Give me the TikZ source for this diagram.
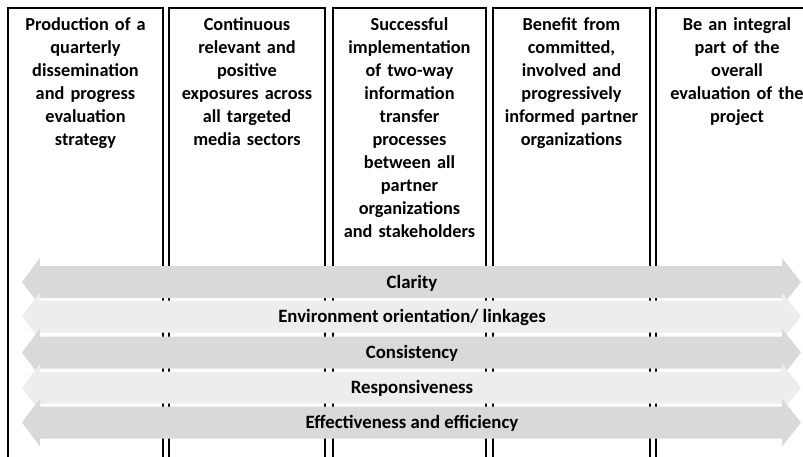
\documentclass[tikz,border=0pt]{standalone}
\usepackage{fontspec}
\setmainfont{Carlito}
\usepackage{xcolor}
\usetikzlibrary{positioning}

\definecolor{barDark}{RGB}{217,217,217}
\definecolor{barPale}{RGB}{237,237,237}

\tikzset{
  colbox/.style={draw=black, line width=2.6pt},
  coltext/.style={anchor=north, text width=160pt, align=center, inner sep=0pt,
    font=\bfseries\fontsize{18.3}{23}\selectfont},
  barlabel/.style={inner sep=0pt, font=\bfseries\fontsize{18.8}{20}\selectfont}
}

\begin{document}
\begin{tikzpicture}[x=1pt,y=-1pt]
        \useasboundingbox (0,0) rectangle (803,456);
        \clip (0,0) rectangle (803,456);
        % columns
        \foreach \l/\r in {8/163, 169/325, 333/486, 493/650, 656/818}
        \draw[colbox] (\l,470) -- (\l,8) -- (\r,8) -- (\r,470);
        \node[coltext] (goal1) at (85.5,17) {Production of a\\quarterly\\dissemination\\and progress\\evaluation\\strategy};
        \node[coltext] (goal2) at (247,17) {Continuous\\relevant and\\positive\\exposures across\\all targeted\\media sectors};
        \node[coltext] (goal3) at (409.5,17) {Successful\\implementation\\of two-way\\information\\transfer\\processes\\between all\\partner\\organizations\\and stakeholders};
        \node[coltext] (goal4) at (571.5,17) {Benefit from\\committed,\\involved and\\progressively\\informed partner\\organizations};
        \node[coltext] (goal5) at (737,17) {Be an integral\\part of the\\overall\\evaluation of the\\project};
        % principles
        \foreach \y/\c/\txt [count=\i] in {282/barDark/Clarity, 316.5/barPale/{Environment orientation/ linkages}, 352.5/barDark/Consistency, 387.5/barPale/Responsiveness, 422.5/barDark/{Effectiveness and efficiency}}
        {
        \fill[\c] (22,\y) -- (40,{\y-24}) -- (40,{\y-16}) -- (782,{\y-16}) -- (782,{\y-24}) -- (801,\y)
                -- (782,{\y+24}) -- (782,{\y+16}) -- (40,{\y+16}) -- (40,{\y+24}) -- cycle;
        \node[barlabel] (bar\i) at (412,{\y+1}) {\txt};
        }
\end{tikzpicture}
\end{document}
